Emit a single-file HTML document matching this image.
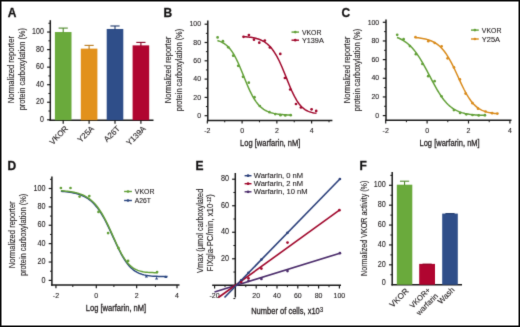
<!DOCTYPE html>
<html><head><meta charset="utf-8"><style>
html,body{margin:0;padding:0;background:#fff;}
body{width:520px;height:327px;overflow:hidden;}
svg{display:block;}
text{font-family:"Liberation Sans",sans-serif;stroke:#231f20;stroke-width:0.12px;}
</style></head><body>
<svg width="520" height="327" viewBox="0 0 520 327">
<defs><filter id="bl" x="0" y="0" width="520" height="327" filterUnits="userSpaceOnUse" color-interpolation-filters="sRGB"><feConvolveMatrix order="3" kernelMatrix="0.01134 0.08382 0.01134 0.08382 0.61935 0.08382 0.01134 0.08382 0.01134" divisor="1" preserveAlpha="true" edgeMode="duplicate"/></filter></defs>
<g filter="url(#bl)"><rect x="0" y="0" width="520" height="327" fill="#fff"/>
<text x="7.80" y="16.70" font-size="12" text-anchor="start" fill="#111" style="stroke-width:0.3px" font-weight="bold">A</text><text x="163.40" y="16.50" font-size="12" text-anchor="start" fill="#111" style="stroke-width:0.3px" font-weight="bold">B</text><text x="341.60" y="16.60" font-size="12" text-anchor="start" fill="#111" style="stroke-width:0.3px" font-weight="bold">C</text><text x="7.60" y="169.80" font-size="12" text-anchor="start" fill="#111" style="stroke-width:0.3px" font-weight="bold">D</text><text x="195.50" y="169.80" font-size="12" text-anchor="start" fill="#111" style="stroke-width:0.3px" font-weight="bold">E</text><text x="359.50" y="169.80" font-size="12" text-anchor="start" fill="#111" style="stroke-width:0.3px" font-weight="bold">F</text><line x1="50.30" y1="20.20" x2="50.30" y2="121.00" stroke="#1a1a1a" stroke-width="1.5"/><line x1="49.55" y1="120.20" x2="153.50" y2="120.20" stroke="#1a1a1a" stroke-width="1.6"/><line x1="47.10" y1="119.80" x2="50.30" y2="119.80" stroke="#1a1a1a" stroke-width="1.2"/><text x="43.80" y="122.00" font-size="8.14" text-anchor="end" fill="#231f20" textLength="3.91" lengthAdjust="spacingAndGlyphs">0</text><line x1="47.10" y1="102.25" x2="50.30" y2="102.25" stroke="#1a1a1a" stroke-width="1.2"/><text x="43.80" y="104.45" font-size="8.14" text-anchor="end" fill="#231f20" textLength="7.82" lengthAdjust="spacingAndGlyphs">20</text><line x1="47.10" y1="84.70" x2="50.30" y2="84.70" stroke="#1a1a1a" stroke-width="1.2"/><text x="43.80" y="86.90" font-size="8.14" text-anchor="end" fill="#231f20" textLength="7.82" lengthAdjust="spacingAndGlyphs">40</text><line x1="47.10" y1="67.14" x2="50.30" y2="67.14" stroke="#1a1a1a" stroke-width="1.2"/><text x="43.80" y="69.34" font-size="8.14" text-anchor="end" fill="#231f20" textLength="7.82" lengthAdjust="spacingAndGlyphs">60</text><line x1="47.10" y1="49.59" x2="50.30" y2="49.59" stroke="#1a1a1a" stroke-width="1.2"/><text x="43.80" y="51.79" font-size="8.14" text-anchor="end" fill="#231f20" textLength="7.82" lengthAdjust="spacingAndGlyphs">80</text><line x1="47.10" y1="32.04" x2="50.30" y2="32.04" stroke="#1a1a1a" stroke-width="1.2"/><text x="43.80" y="34.24" font-size="8.14" text-anchor="end" fill="#231f20" textLength="11.73" lengthAdjust="spacingAndGlyphs">100</text><line x1="48.40" y1="111.02" x2="50.30" y2="111.02" stroke="#1a1a1a" stroke-width="1.0"/><line x1="48.40" y1="93.47" x2="50.30" y2="93.47" stroke="#1a1a1a" stroke-width="1.0"/><line x1="48.40" y1="75.92" x2="50.30" y2="75.92" stroke="#1a1a1a" stroke-width="1.0"/><line x1="48.40" y1="58.37" x2="50.30" y2="58.37" stroke="#1a1a1a" stroke-width="1.0"/><line x1="48.40" y1="40.82" x2="50.30" y2="40.82" stroke="#1a1a1a" stroke-width="1.0"/><line x1="48.40" y1="23.26" x2="50.30" y2="23.26" stroke="#1a1a1a" stroke-width="1.0"/><rect x="54.90" y="32.04" width="16.6" height="88.16" fill="#6aaa3c"/><line x1="63.20" y1="28.09" x2="63.20" y2="32.54" stroke="#4f8a2c" stroke-width="1.1"/><line x1="58.60" y1="28.09" x2="67.80" y2="28.09" stroke="#4f8a2c" stroke-width="1.1"/><line x1="63.20" y1="120.20" x2="63.20" y2="123.80" stroke="#1a1a1a" stroke-width="1.2"/><text x="68.70" y="129.10" font-size="8.0" text-anchor="end" fill="#231f20" transform="rotate(-45 68.70 129.10)">VKOR</text><rect x="80.80" y="48.63" width="16.6" height="71.57" fill="#e2911c"/><line x1="89.10" y1="45.38" x2="89.10" y2="49.13" stroke="#b97a1c" stroke-width="1.1"/><line x1="84.50" y1="45.38" x2="93.70" y2="45.38" stroke="#b97a1c" stroke-width="1.1"/><line x1="89.10" y1="120.20" x2="89.10" y2="123.80" stroke="#1a1a1a" stroke-width="1.2"/><text x="94.60" y="129.10" font-size="8.0" text-anchor="end" fill="#231f20" transform="rotate(-45 94.60 129.10)">Y25A</text><rect x="106.70" y="28.97" width="16.6" height="91.23" fill="#2f4e89"/><line x1="115.00" y1="25.98" x2="115.00" y2="29.47" stroke="#203a6c" stroke-width="1.1"/><line x1="110.40" y1="25.98" x2="119.60" y2="25.98" stroke="#203a6c" stroke-width="1.1"/><line x1="115.00" y1="120.20" x2="115.00" y2="123.80" stroke="#1a1a1a" stroke-width="1.2"/><text x="120.50" y="129.10" font-size="8.0" text-anchor="end" fill="#231f20" transform="rotate(-45 120.50 129.10)">A26T</text><rect x="132.60" y="45.38" width="16.6" height="74.82" fill="#b00530"/><line x1="140.90" y1="42.40" x2="140.90" y2="45.88" stroke="#880022" stroke-width="1.1"/><line x1="136.30" y1="42.40" x2="145.50" y2="42.40" stroke="#880022" stroke-width="1.1"/><line x1="140.90" y1="120.20" x2="140.90" y2="123.80" stroke="#1a1a1a" stroke-width="1.2"/><text x="146.40" y="129.10" font-size="8.0" text-anchor="end" fill="#231f20" transform="rotate(-45 146.40 129.10)">Y139A</text><text x="13.60" y="69.70" font-size="8.3" text-anchor="middle" fill="#231f20" textLength="67.30" lengthAdjust="spacingAndGlyphs" transform="rotate(-90 13.60 69.70)">Normalized reporter</text><text x="24.70" y="69.20" font-size="8.3" text-anchor="middle" fill="#231f20" textLength="82.30" lengthAdjust="spacingAndGlyphs" transform="rotate(-90 24.70 69.20)">protein carboxylation (%)</text><line x1="207.80" y1="20.50" x2="207.80" y2="121.15" stroke="#1a1a1a" stroke-width="1.5"/><line x1="207.05" y1="120.40" x2="332.40" y2="120.40" stroke="#1a1a1a" stroke-width="1.5"/><line x1="204.60" y1="115.70" x2="207.80" y2="115.70" stroke="#1a1a1a" stroke-width="1.2"/><text x="201.00" y="117.90" font-size="8.030000000000001" text-anchor="end" fill="#231f20" textLength="3.86" lengthAdjust="spacingAndGlyphs">0</text><line x1="204.60" y1="97.40" x2="207.80" y2="97.40" stroke="#1a1a1a" stroke-width="1.2"/><text x="201.00" y="99.60" font-size="8.030000000000001" text-anchor="end" fill="#231f20" textLength="7.71" lengthAdjust="spacingAndGlyphs">20</text><line x1="204.60" y1="79.10" x2="207.80" y2="79.10" stroke="#1a1a1a" stroke-width="1.2"/><text x="201.00" y="81.30" font-size="8.030000000000001" text-anchor="end" fill="#231f20" textLength="7.71" lengthAdjust="spacingAndGlyphs">40</text><line x1="204.60" y1="60.80" x2="207.80" y2="60.80" stroke="#1a1a1a" stroke-width="1.2"/><text x="201.00" y="63.00" font-size="8.030000000000001" text-anchor="end" fill="#231f20" textLength="7.71" lengthAdjust="spacingAndGlyphs">60</text><line x1="204.60" y1="42.50" x2="207.80" y2="42.50" stroke="#1a1a1a" stroke-width="1.2"/><text x="201.00" y="44.70" font-size="8.030000000000001" text-anchor="end" fill="#231f20" textLength="7.71" lengthAdjust="spacingAndGlyphs">80</text><line x1="204.60" y1="24.20" x2="207.80" y2="24.20" stroke="#1a1a1a" stroke-width="1.2"/><text x="201.00" y="26.40" font-size="8.030000000000001" text-anchor="end" fill="#231f20" textLength="11.57" lengthAdjust="spacingAndGlyphs">100</text><line x1="205.90" y1="106.55" x2="207.80" y2="106.55" stroke="#1a1a1a" stroke-width="1.0"/><line x1="205.90" y1="88.25" x2="207.80" y2="88.25" stroke="#1a1a1a" stroke-width="1.0"/><line x1="205.90" y1="69.95" x2="207.80" y2="69.95" stroke="#1a1a1a" stroke-width="1.0"/><line x1="205.90" y1="51.65" x2="207.80" y2="51.65" stroke="#1a1a1a" stroke-width="1.0"/><line x1="205.90" y1="33.35" x2="207.80" y2="33.35" stroke="#1a1a1a" stroke-width="1.0"/><line x1="207.34" y1="120.40" x2="207.34" y2="123.60" stroke="#1a1a1a" stroke-width="1.2"/><text x="207.34" y="133.40" font-size="7.700000000000001" text-anchor="middle" fill="#231f20" textLength="6.22" lengthAdjust="spacingAndGlyphs">-2</text><line x1="224.72" y1="120.40" x2="224.72" y2="122.30" stroke="#1a1a1a" stroke-width="1.0"/><line x1="242.10" y1="120.40" x2="242.10" y2="123.60" stroke="#1a1a1a" stroke-width="1.2"/><text x="242.10" y="133.40" font-size="7.700000000000001" text-anchor="middle" fill="#231f20" textLength="3.89" lengthAdjust="spacingAndGlyphs">0</text><line x1="259.48" y1="120.40" x2="259.48" y2="122.30" stroke="#1a1a1a" stroke-width="1.0"/><line x1="276.86" y1="120.40" x2="276.86" y2="123.60" stroke="#1a1a1a" stroke-width="1.2"/><text x="276.86" y="133.40" font-size="7.700000000000001" text-anchor="middle" fill="#231f20" textLength="3.89" lengthAdjust="spacingAndGlyphs">2</text><line x1="294.24" y1="120.40" x2="294.24" y2="122.30" stroke="#1a1a1a" stroke-width="1.0"/><line x1="311.62" y1="120.40" x2="311.62" y2="123.60" stroke="#1a1a1a" stroke-width="1.2"/><text x="311.62" y="133.40" font-size="7.700000000000001" text-anchor="middle" fill="#231f20" textLength="3.89" lengthAdjust="spacingAndGlyphs">4</text><line x1="329.00" y1="120.40" x2="329.00" y2="122.30" stroke="#1a1a1a" stroke-width="1.0"/><text x="270.20" y="146.00" font-size="9.3" text-anchor="middle" fill="#231f20" style="stroke-width:0.3px" textLength="60.20" lengthAdjust="spacingAndGlyphs">Log [warfarin, nM]</text><path d="M217.40,40.54 L218.65,40.93 L219.90,41.38 L221.15,41.91 L222.40,42.53 L223.65,43.24 L224.91,44.07 L226.16,45.02 L227.41,46.12 L228.66,47.37 L229.91,48.79 L231.16,50.39 L232.41,52.18 L233.66,54.17 L234.91,56.36 L236.16,58.74 L237.41,61.31 L238.66,64.05 L239.92,66.94 L241.17,69.94 L242.42,73.01 L243.67,76.13 L244.92,79.24 L246.17,82.31 L247.42,85.29 L248.67,88.16 L249.92,90.89 L251.17,93.45 L252.42,95.83 L253.67,98.02 L254.93,100.02 L256.18,101.84 L257.43,103.47 L258.68,104.94 L259.93,106.24 L261.18,107.39 L262.43,108.41 L263.68,109.31 L264.93,110.09 L266.18,110.78 L267.43,111.38 L268.68,111.90 L269.94,112.35 L271.19,112.74 L272.44,113.08 L273.69,113.38 L274.94,113.63 L276.19,113.86 L277.44,114.05 L278.69,114.21 L279.94,114.35 L281.19,114.48 L282.44,114.58 L283.69,114.67 L284.95,114.75 L286.20,114.82 L287.45,114.88 L288.70,114.93 L289.95,114.97 L291.20,115.01" fill="none" stroke="#62a038" stroke-width="1.5" stroke-linejoin="round"/><circle cx="217.60" cy="37.40" r="1.35" fill="#62a038"/><circle cx="222.90" cy="41.20" r="1.35" fill="#62a038"/><circle cx="228.30" cy="47.30" r="1.35" fill="#62a038"/><circle cx="233.20" cy="55.70" r="1.35" fill="#62a038"/><circle cx="238.20" cy="65.80" r="1.35" fill="#62a038"/><circle cx="243.00" cy="76.80" r="1.35" fill="#62a038"/><circle cx="248.80" cy="82.70" r="1.35" fill="#62a038"/><circle cx="254.50" cy="97.20" r="1.35" fill="#62a038"/><circle cx="259.80" cy="106.00" r="1.35" fill="#62a038"/><circle cx="269.50" cy="112.20" r="1.35" fill="#62a038"/><circle cx="275.20" cy="114.10" r="1.35" fill="#62a038"/><circle cx="280.50" cy="115.20" r="1.35" fill="#62a038"/><circle cx="285.30" cy="115.40" r="1.35" fill="#62a038"/><circle cx="290.70" cy="115.20" r="1.35" fill="#62a038"/><path d="M243.50,36.62 L244.74,36.70 L245.97,36.80 L247.21,36.91 L248.45,37.04 L249.69,37.19 L250.92,37.36 L252.16,37.56 L253.40,37.78 L254.64,38.04 L255.87,38.33 L257.11,38.67 L258.35,39.06 L259.58,39.50 L260.82,40.01 L262.06,40.58 L263.30,41.23 L264.53,41.97 L265.77,42.81 L267.01,43.76 L268.25,44.82 L269.48,46.02 L270.72,47.35 L271.96,48.84 L273.19,50.49 L274.43,52.30 L275.67,54.29 L276.91,56.45 L278.14,58.79 L279.38,61.29 L280.62,63.95 L281.86,66.75 L283.09,69.67 L284.33,72.68 L285.57,75.76 L286.81,78.85 L288.04,81.94 L289.28,84.97 L290.52,87.92 L291.75,90.75 L292.99,93.42 L294.23,95.93 L295.47,98.24 L296.70,100.36 L297.94,102.26 L299.18,103.97 L300.42,105.48 L301.65,106.80 L302.89,107.94 L304.13,108.93 L305.36,109.78 L306.60,110.50 L307.84,111.10 L309.08,111.61 L310.31,112.04 L311.55,112.39 L312.79,112.68 L314.03,112.92 L315.26,113.12 L316.50,113.29" fill="none" stroke="#a0082c" stroke-width="1.5" stroke-linejoin="round"/><circle cx="243.50" cy="36.80" r="1.35" fill="#a0082c"/><circle cx="248.90" cy="35.00" r="1.35" fill="#a0082c"/><circle cx="254.00" cy="39.70" r="1.35" fill="#a0082c"/><circle cx="259.30" cy="42.70" r="1.35" fill="#a0082c"/><circle cx="264.80" cy="40.50" r="1.35" fill="#a0082c"/><circle cx="269.90" cy="47.40" r="1.35" fill="#a0082c"/><circle cx="280.30" cy="53.90" r="1.35" fill="#a0082c"/><circle cx="284.90" cy="78.00" r="1.35" fill="#a0082c"/><circle cx="290.20" cy="89.50" r="1.35" fill="#a0082c"/><circle cx="296.00" cy="104.00" r="1.35" fill="#a0082c"/><circle cx="300.90" cy="107.50" r="1.35" fill="#a0082c"/><circle cx="311.60" cy="109.30" r="1.35" fill="#a0082c"/><circle cx="316.20" cy="110.90" r="1.35" fill="#a0082c"/><text x="171.50" y="69.90" font-size="8.3" text-anchor="middle" fill="#231f20" textLength="66.60" lengthAdjust="spacingAndGlyphs" transform="rotate(-90 171.50 69.90)">Normalized reporter</text><text x="181.90" y="70.00" font-size="8.3" text-anchor="middle" fill="#231f20" textLength="82.50" lengthAdjust="spacingAndGlyphs" transform="rotate(-90 181.90 70.00)">protein carboxylation (%)</text><line x1="386.00" y1="19.40" x2="386.00" y2="121.05" stroke="#1a1a1a" stroke-width="1.5"/><line x1="385.25" y1="120.30" x2="511.50" y2="120.30" stroke="#1a1a1a" stroke-width="1.5"/><line x1="382.80" y1="115.60" x2="386.00" y2="115.60" stroke="#1a1a1a" stroke-width="1.2"/><text x="379.20" y="117.80" font-size="8.030000000000001" text-anchor="end" fill="#231f20" textLength="3.86" lengthAdjust="spacingAndGlyphs">0</text><line x1="382.80" y1="96.94" x2="386.00" y2="96.94" stroke="#1a1a1a" stroke-width="1.2"/><text x="379.20" y="99.14" font-size="8.030000000000001" text-anchor="end" fill="#231f20" textLength="7.71" lengthAdjust="spacingAndGlyphs">20</text><line x1="382.80" y1="78.28" x2="386.00" y2="78.28" stroke="#1a1a1a" stroke-width="1.2"/><text x="379.20" y="80.48" font-size="8.030000000000001" text-anchor="end" fill="#231f20" textLength="7.71" lengthAdjust="spacingAndGlyphs">40</text><line x1="382.80" y1="59.62" x2="386.00" y2="59.62" stroke="#1a1a1a" stroke-width="1.2"/><text x="379.20" y="61.82" font-size="8.030000000000001" text-anchor="end" fill="#231f20" textLength="7.71" lengthAdjust="spacingAndGlyphs">60</text><line x1="382.80" y1="40.96" x2="386.00" y2="40.96" stroke="#1a1a1a" stroke-width="1.2"/><text x="379.20" y="43.16" font-size="8.030000000000001" text-anchor="end" fill="#231f20" textLength="7.71" lengthAdjust="spacingAndGlyphs">80</text><line x1="382.80" y1="22.30" x2="386.00" y2="22.30" stroke="#1a1a1a" stroke-width="1.2"/><text x="379.20" y="24.50" font-size="8.030000000000001" text-anchor="end" fill="#231f20" textLength="11.57" lengthAdjust="spacingAndGlyphs">100</text><line x1="384.10" y1="106.27" x2="386.00" y2="106.27" stroke="#1a1a1a" stroke-width="1.0"/><line x1="384.10" y1="87.61" x2="386.00" y2="87.61" stroke="#1a1a1a" stroke-width="1.0"/><line x1="384.10" y1="68.95" x2="386.00" y2="68.95" stroke="#1a1a1a" stroke-width="1.0"/><line x1="384.10" y1="50.29" x2="386.00" y2="50.29" stroke="#1a1a1a" stroke-width="1.0"/><line x1="384.10" y1="31.63" x2="386.00" y2="31.63" stroke="#1a1a1a" stroke-width="1.0"/><line x1="385.70" y1="120.30" x2="385.70" y2="123.50" stroke="#1a1a1a" stroke-width="1.2"/><text x="385.70" y="133.30" font-size="7.700000000000001" text-anchor="middle" fill="#231f20" textLength="6.22" lengthAdjust="spacingAndGlyphs">-2</text><line x1="406.40" y1="120.30" x2="406.40" y2="122.20" stroke="#1a1a1a" stroke-width="1.0"/><line x1="427.10" y1="120.30" x2="427.10" y2="123.50" stroke="#1a1a1a" stroke-width="1.2"/><text x="427.10" y="133.30" font-size="7.700000000000001" text-anchor="middle" fill="#231f20" textLength="3.89" lengthAdjust="spacingAndGlyphs">0</text><line x1="447.80" y1="120.30" x2="447.80" y2="122.20" stroke="#1a1a1a" stroke-width="1.0"/><line x1="468.50" y1="120.30" x2="468.50" y2="123.50" stroke="#1a1a1a" stroke-width="1.2"/><text x="468.50" y="133.30" font-size="7.700000000000001" text-anchor="middle" fill="#231f20" textLength="3.89" lengthAdjust="spacingAndGlyphs">2</text><line x1="489.20" y1="120.30" x2="489.20" y2="122.20" stroke="#1a1a1a" stroke-width="1.0"/><line x1="509.90" y1="120.30" x2="509.90" y2="123.50" stroke="#1a1a1a" stroke-width="1.2"/><text x="509.90" y="133.30" font-size="7.700000000000001" text-anchor="middle" fill="#231f20" textLength="3.89" lengthAdjust="spacingAndGlyphs">4</text><text x="449.60" y="146.00" font-size="9.3" text-anchor="middle" fill="#231f20" style="stroke-width:0.3px" textLength="60.20" lengthAdjust="spacingAndGlyphs">Log [warfarin, nM]</text><path d="M397.00,37.44 L398.51,38.04 L400.02,38.72 L401.53,39.48 L403.03,40.33 L404.54,41.28 L406.05,42.34 L407.56,43.52 L409.07,44.82 L410.58,46.25 L412.08,47.82 L413.59,49.54 L415.10,51.40 L416.61,53.42 L418.12,55.58 L419.63,57.89 L421.14,60.33 L422.64,62.90 L424.15,65.57 L425.66,68.34 L427.17,71.18 L428.68,74.06 L430.19,76.96 L431.69,79.85 L433.20,82.69 L434.71,85.48 L436.22,88.18 L437.73,90.76 L439.24,93.21 L440.75,95.53 L442.25,97.68 L443.76,99.68 L445.27,101.52 L446.78,103.19 L448.29,104.70 L449.80,106.07 L451.31,107.29 L452.81,108.37 L454.32,109.33 L455.83,110.18 L457.34,110.93 L458.85,111.58 L460.36,112.14 L461.86,112.64 L463.37,113.07 L464.88,113.44 L466.39,113.76 L467.90,114.03 L469.41,114.27 L470.92,114.47 L472.42,114.65 L473.93,114.80 L475.44,114.92 L476.95,115.03 L478.46,115.13 L479.97,115.21 L481.47,115.28 L482.98,115.33 L484.49,115.38 L486.00,115.43" fill="none" stroke="#62a038" stroke-width="1.5" stroke-linejoin="round"/><circle cx="397.20" cy="34.80" r="1.35" fill="#62a038"/><circle cx="403.60" cy="39.20" r="1.35" fill="#62a038"/><circle cx="409.90" cy="46.10" r="1.35" fill="#62a038"/><circle cx="415.90" cy="54.20" r="1.35" fill="#62a038"/><circle cx="422.40" cy="64.00" r="1.35" fill="#62a038"/><circle cx="428.20" cy="76.20" r="1.35" fill="#62a038"/><circle cx="434.60" cy="81.20" r="1.35" fill="#62a038"/><circle cx="441.50" cy="96.30" r="1.35" fill="#62a038"/><circle cx="453.90" cy="110.10" r="1.35" fill="#62a038"/><circle cx="460.10" cy="112.90" r="1.35" fill="#62a038"/><circle cx="466.30" cy="114.30" r="1.35" fill="#62a038"/><circle cx="472.50" cy="115.00" r="1.35" fill="#62a038"/><circle cx="478.70" cy="115.40" r="1.35" fill="#62a038"/><circle cx="484.90" cy="115.20" r="1.35" fill="#62a038"/><path d="M415.50,37.60 L416.89,37.72 L418.28,37.87 L419.66,38.03 L421.05,38.23 L422.44,38.45 L423.83,38.71 L425.22,39.00 L426.61,39.35 L427.99,39.74 L429.38,40.19 L430.77,40.71 L432.16,41.31 L433.55,41.99 L434.93,42.76 L436.32,43.64 L437.71,44.64 L439.10,45.77 L440.49,47.04 L441.87,48.46 L443.26,50.04 L444.65,51.79 L446.04,53.71 L447.43,55.81 L448.82,58.09 L450.20,60.54 L451.59,63.15 L452.98,65.90 L454.37,68.77 L455.76,71.73 L457.14,74.75 L458.53,77.80 L459.92,80.83 L461.31,83.82 L462.70,86.72 L464.08,89.51 L465.47,92.15 L466.86,94.63 L468.25,96.94 L469.64,99.05 L471.03,100.98 L472.41,102.71 L473.80,104.26 L475.19,105.64 L476.58,106.85 L477.97,107.91 L479.35,108.84 L480.74,109.64 L482.13,110.33 L483.52,110.92 L484.91,111.43 L486.29,111.86 L487.68,112.23 L489.07,112.55 L490.46,112.81 L491.85,113.04 L493.24,113.23 L494.62,113.39 L496.01,113.52 L497.40,113.63" fill="none" stroke="#d98b1c" stroke-width="1.5" stroke-linejoin="round"/><circle cx="415.50" cy="37.20" r="1.35" fill="#d98b1c"/><circle cx="428.30" cy="41.20" r="1.35" fill="#d98b1c"/><circle cx="434.80" cy="43.00" r="1.35" fill="#d98b1c"/><circle cx="441.60" cy="46.30" r="1.35" fill="#d98b1c"/><circle cx="447.60" cy="58.30" r="1.35" fill="#d98b1c"/><circle cx="454.00" cy="67.40" r="1.35" fill="#d98b1c"/><circle cx="459.90" cy="79.40" r="1.35" fill="#d98b1c"/><circle cx="465.60" cy="93.60" r="1.35" fill="#d98b1c"/><circle cx="472.50" cy="103.20" r="1.35" fill="#d98b1c"/><circle cx="478.00" cy="108.70" r="1.35" fill="#d98b1c"/><circle cx="485.60" cy="111.50" r="1.35" fill="#d98b1c"/><circle cx="492.10" cy="113.20" r="1.35" fill="#d98b1c"/><circle cx="497.40" cy="113.60" r="1.35" fill="#d98b1c"/><text x="349.70" y="69.90" font-size="8.3" text-anchor="middle" fill="#231f20" textLength="66.60" lengthAdjust="spacingAndGlyphs" transform="rotate(-90 349.70 69.90)">Normalized reporter</text><text x="360.10" y="70.00" font-size="8.3" text-anchor="middle" fill="#231f20" textLength="82.50" lengthAdjust="spacingAndGlyphs" transform="rotate(-90 360.10 70.00)">protein carboxylation (%)</text><line x1="291.50" y1="32.10" x2="299.00" y2="32.10" stroke="#62a038" stroke-width="1.4"/><circle cx="295.25" cy="32.10" r="1.35" fill="#62a038"/><text x="301.90" y="34.70" font-size="7.2" text-anchor="start" fill="#231f20" textLength="19.60" lengthAdjust="spacingAndGlyphs">VKOR</text><line x1="291.50" y1="40.20" x2="299.00" y2="40.20" stroke="#a0082c" stroke-width="1.4"/><circle cx="295.25" cy="40.20" r="1.35" fill="#a0082c"/><text x="301.90" y="42.80" font-size="7.2" text-anchor="start" fill="#231f20" textLength="21.90" lengthAdjust="spacingAndGlyphs">Y139A</text><line x1="471.00" y1="30.10" x2="478.80" y2="30.10" stroke="#62a038" stroke-width="1.4"/><circle cx="474.90" cy="30.10" r="1.35" fill="#62a038"/><text x="481.80" y="32.70" font-size="7.2" text-anchor="start" fill="#231f20" textLength="19.60" lengthAdjust="spacingAndGlyphs">VKOR</text><line x1="471.00" y1="39.00" x2="478.80" y2="39.00" stroke="#d98b1c" stroke-width="1.4"/><circle cx="474.90" cy="39.00" r="1.35" fill="#d98b1c"/><text x="481.80" y="41.60" font-size="7.2" text-anchor="start" fill="#231f20" textLength="18.20" lengthAdjust="spacingAndGlyphs">Y25A</text><line x1="51.90" y1="176.40" x2="51.90" y2="285.85" stroke="#1a1a1a" stroke-width="1.5"/><line x1="51.15" y1="285.10" x2="179.50" y2="285.10" stroke="#1a1a1a" stroke-width="1.5"/><line x1="48.70" y1="280.40" x2="51.90" y2="280.40" stroke="#1a1a1a" stroke-width="1.2"/><text x="45.60" y="282.60" font-size="8.36" text-anchor="end" fill="#231f20" textLength="4.01" lengthAdjust="spacingAndGlyphs">0</text><line x1="48.70" y1="262.02" x2="51.90" y2="262.02" stroke="#1a1a1a" stroke-width="1.2"/><text x="45.60" y="264.22" font-size="8.36" text-anchor="end" fill="#231f20" textLength="8.03" lengthAdjust="spacingAndGlyphs">20</text><line x1="48.70" y1="243.64" x2="51.90" y2="243.64" stroke="#1a1a1a" stroke-width="1.2"/><text x="45.60" y="245.84" font-size="8.36" text-anchor="end" fill="#231f20" textLength="8.03" lengthAdjust="spacingAndGlyphs">40</text><line x1="48.70" y1="225.26" x2="51.90" y2="225.26" stroke="#1a1a1a" stroke-width="1.2"/><text x="45.60" y="227.46" font-size="8.36" text-anchor="end" fill="#231f20" textLength="8.03" lengthAdjust="spacingAndGlyphs">60</text><line x1="48.70" y1="206.88" x2="51.90" y2="206.88" stroke="#1a1a1a" stroke-width="1.2"/><text x="45.60" y="209.08" font-size="8.36" text-anchor="end" fill="#231f20" textLength="8.03" lengthAdjust="spacingAndGlyphs">80</text><line x1="48.70" y1="188.50" x2="51.90" y2="188.50" stroke="#1a1a1a" stroke-width="1.2"/><text x="45.60" y="190.70" font-size="8.36" text-anchor="end" fill="#231f20" textLength="12.04" lengthAdjust="spacingAndGlyphs">100</text><line x1="50.00" y1="271.21" x2="51.90" y2="271.21" stroke="#1a1a1a" stroke-width="1.0"/><line x1="50.00" y1="252.83" x2="51.90" y2="252.83" stroke="#1a1a1a" stroke-width="1.0"/><line x1="50.00" y1="234.45" x2="51.90" y2="234.45" stroke="#1a1a1a" stroke-width="1.0"/><line x1="50.00" y1="216.07" x2="51.90" y2="216.07" stroke="#1a1a1a" stroke-width="1.0"/><line x1="50.00" y1="197.69" x2="51.90" y2="197.69" stroke="#1a1a1a" stroke-width="1.0"/><line x1="50.00" y1="179.31" x2="51.90" y2="179.31" stroke="#1a1a1a" stroke-width="1.0"/><line x1="55.94" y1="285.10" x2="55.94" y2="288.30" stroke="#1a1a1a" stroke-width="1.2"/><text x="55.94" y="297.90" font-size="7.700000000000001" text-anchor="middle" fill="#231f20" textLength="6.22" lengthAdjust="spacingAndGlyphs">-2</text><line x1="96.30" y1="285.10" x2="96.30" y2="288.30" stroke="#1a1a1a" stroke-width="1.2"/><text x="96.30" y="297.90" font-size="7.700000000000001" text-anchor="middle" fill="#231f20" textLength="3.89" lengthAdjust="spacingAndGlyphs">0</text><line x1="136.66" y1="285.10" x2="136.66" y2="288.30" stroke="#1a1a1a" stroke-width="1.2"/><text x="136.66" y="297.90" font-size="7.700000000000001" text-anchor="middle" fill="#231f20" textLength="3.89" lengthAdjust="spacingAndGlyphs">2</text><line x1="177.02" y1="285.10" x2="177.02" y2="288.30" stroke="#1a1a1a" stroke-width="1.2"/><text x="177.02" y="297.90" font-size="7.700000000000001" text-anchor="middle" fill="#231f20" textLength="3.89" lengthAdjust="spacingAndGlyphs">4</text><line x1="72.80" y1="285.10" x2="72.80" y2="287.00" stroke="#1a1a1a" stroke-width="1.0"/><line x1="113.90" y1="285.10" x2="113.90" y2="287.00" stroke="#1a1a1a" stroke-width="1.0"/><line x1="155.40" y1="285.10" x2="155.40" y2="287.00" stroke="#1a1a1a" stroke-width="1.0"/><text x="116.00" y="310.90" font-size="9.3" text-anchor="middle" fill="#231f20" style="stroke-width:0.3px" textLength="60.40" lengthAdjust="spacingAndGlyphs">Log [warfarin, nM]</text><text x="15.50" y="234.80" font-size="8.3" text-anchor="middle" fill="#231f20" textLength="66.80" lengthAdjust="spacingAndGlyphs" transform="rotate(-90 15.50 234.80)">Normalized reporter</text><text x="26.00" y="234.90" font-size="8.3" text-anchor="middle" fill="#231f20" textLength="82.40" lengthAdjust="spacingAndGlyphs" transform="rotate(-90 26.00 234.90)">protein carboxylation (%)</text><path d="M60.90,191.33 L62.71,191.46 L64.52,191.62 L66.33,191.80 L68.13,192.01 L69.94,192.26 L71.75,192.56 L73.56,192.90 L75.37,193.30 L77.18,193.77 L78.98,194.32 L80.79,194.96 L82.60,195.71 L84.41,196.57 L86.22,197.57 L88.03,198.72 L89.84,200.04 L91.64,201.55 L93.45,203.27 L95.26,205.22 L97.07,207.40 L98.88,209.85 L100.69,212.55 L102.49,215.51 L104.30,218.73 L106.11,222.18 L107.92,225.83 L109.73,229.65 L111.54,233.59 L113.35,237.57 L115.15,241.55 L116.96,245.45 L118.77,249.22 L120.58,252.78 L122.39,256.10 L124.20,259.14 L126.01,261.88 L127.81,264.30 L129.62,266.42 L131.43,268.25 L133.24,269.80 L135.05,271.11 L136.86,272.19 L138.66,273.09 L140.47,273.82 L142.28,274.41 L144.09,274.89 L145.90,275.27 L147.71,275.57 L149.52,275.81 L151.32,276.00 L153.13,276.15 L154.94,276.27 L156.75,276.36 L158.56,276.43 L160.37,276.49 L162.17,276.53 L163.98,276.57 L165.79,276.59 L167.60,276.61" fill="none" stroke="#2a4680" stroke-width="1.5" stroke-linejoin="round"/><path d="M60.90,190.73 L62.54,190.85 L64.17,190.98 L65.81,191.13 L67.45,191.30 L69.09,191.51 L70.72,191.74 L72.36,192.01 L74.00,192.32 L75.64,192.69 L77.27,193.10 L78.91,193.59 L80.55,194.14 L82.18,194.77 L83.82,195.50 L85.46,196.34 L87.10,197.29 L88.73,198.37 L90.37,199.60 L92.01,201.00 L93.65,202.56 L95.28,204.32 L96.92,206.28 L98.56,208.45 L100.19,210.84 L101.83,213.45 L103.47,216.28 L105.11,219.32 L106.74,222.55 L108.38,225.95 L110.02,229.48 L111.66,233.10 L113.29,236.75 L114.93,240.40 L116.57,243.97 L118.21,247.43 L119.84,250.71 L121.48,253.78 L123.12,256.59 L124.75,259.14 L126.39,261.41 L128.03,263.40 L129.67,265.12 L131.30,266.58 L132.94,267.81 L134.58,268.83 L136.22,269.66 L137.85,270.34 L139.49,270.89 L141.13,271.32 L142.76,271.66 L144.40,271.93 L146.04,272.14 L147.68,272.31 L149.31,272.43 L150.95,272.53 L152.59,272.61 L154.23,272.66 L155.86,272.71 L157.50,272.74" fill="none" stroke="#62a038" stroke-width="1.5" stroke-linejoin="round"/><path d="M155.00,279.50 L158.20,279.50 L156.60,276.80 Z" fill="#2a4680"/><path d="M144.80,277.50 L148.00,277.50 L146.40,274.80 Z" fill="#2a4680"/><path d="M164.20,278.10 L167.40,278.10 L165.80,275.40 Z" fill="#2a4680"/><circle cx="60.90" cy="188.00" r="1.35" fill="#62a038"/><circle cx="70.50" cy="188.00" r="1.35" fill="#62a038"/><circle cx="79.60" cy="196.60" r="1.35" fill="#62a038"/><circle cx="89.30" cy="196.10" r="1.35" fill="#62a038"/><circle cx="98.50" cy="211.90" r="1.35" fill="#62a038"/><circle cx="108.10" cy="233.10" r="1.35" fill="#62a038"/><circle cx="118.40" cy="248.10" r="1.35" fill="#62a038"/><circle cx="128.10" cy="260.90" r="1.35" fill="#62a038"/><circle cx="157.10" cy="272.10" r="1.35" fill="#62a038"/><line x1="124.10" y1="191.50" x2="131.90" y2="191.50" stroke="#62a038" stroke-width="1.4"/><circle cx="128.00" cy="191.50" r="1.35" fill="#62a038"/><text x="134.80" y="194.10" font-size="7.2" text-anchor="start" fill="#231f20" textLength="19.60" lengthAdjust="spacingAndGlyphs">VKOR</text><line x1="124.10" y1="200.50" x2="131.90" y2="200.50" stroke="#2a4680" stroke-width="1.4"/><circle cx="128.00" cy="200.50" r="1.35" fill="#2a4680"/><text x="134.80" y="203.10" font-size="7.2" text-anchor="start" fill="#231f20" textLength="16.20" lengthAdjust="spacingAndGlyphs">A26T</text><line x1="235.30" y1="173.00" x2="235.30" y2="297.50" stroke="#1a1a1a" stroke-width="1.5"/><line x1="212.20" y1="285.30" x2="341.00" y2="285.30" stroke="#1a1a1a" stroke-width="1.5"/><line x1="232.10" y1="258.78" x2="235.30" y2="258.78" stroke="#1a1a1a" stroke-width="1.2"/><text x="229.10" y="260.98" font-size="8.36" text-anchor="end" fill="#231f20" textLength="8.03" lengthAdjust="spacingAndGlyphs">20</text><line x1="232.10" y1="232.26" x2="235.30" y2="232.26" stroke="#1a1a1a" stroke-width="1.2"/><text x="229.10" y="234.46" font-size="8.36" text-anchor="end" fill="#231f20" textLength="8.03" lengthAdjust="spacingAndGlyphs">40</text><line x1="232.10" y1="205.74" x2="235.30" y2="205.74" stroke="#1a1a1a" stroke-width="1.2"/><text x="229.10" y="207.94" font-size="8.36" text-anchor="end" fill="#231f20" textLength="8.03" lengthAdjust="spacingAndGlyphs">60</text><line x1="232.10" y1="179.22" x2="235.30" y2="179.22" stroke="#1a1a1a" stroke-width="1.2"/><text x="229.10" y="181.42" font-size="8.36" text-anchor="end" fill="#231f20" textLength="8.03" lengthAdjust="spacingAndGlyphs">80</text><line x1="233.40" y1="298.56" x2="235.30" y2="298.56" stroke="#1a1a1a" stroke-width="1.0"/><line x1="233.40" y1="272.04" x2="235.30" y2="272.04" stroke="#1a1a1a" stroke-width="1.0"/><line x1="233.40" y1="245.52" x2="235.30" y2="245.52" stroke="#1a1a1a" stroke-width="1.0"/><line x1="233.40" y1="219.00" x2="235.30" y2="219.00" stroke="#1a1a1a" stroke-width="1.0"/><line x1="233.40" y1="192.48" x2="235.30" y2="192.48" stroke="#1a1a1a" stroke-width="1.0"/><line x1="214.60" y1="285.30" x2="214.60" y2="288.50" stroke="#1a1a1a" stroke-width="1.2"/><text x="214.60" y="297.70" font-size="7.700000000000001" text-anchor="middle" fill="#231f20" textLength="10.12" lengthAdjust="spacingAndGlyphs">-20</text><line x1="225.00" y1="285.30" x2="225.00" y2="287.20" stroke="#1a1a1a" stroke-width="1.0"/><line x1="245.80" y1="285.30" x2="245.80" y2="287.20" stroke="#1a1a1a" stroke-width="1.0"/><line x1="256.20" y1="285.30" x2="256.20" y2="288.50" stroke="#1a1a1a" stroke-width="1.2"/><text x="256.20" y="297.70" font-size="7.700000000000001" text-anchor="middle" fill="#231f20" textLength="7.78" lengthAdjust="spacingAndGlyphs">20</text><line x1="266.60" y1="285.30" x2="266.60" y2="287.20" stroke="#1a1a1a" stroke-width="1.0"/><line x1="277.00" y1="285.30" x2="277.00" y2="288.50" stroke="#1a1a1a" stroke-width="1.2"/><text x="277.00" y="297.70" font-size="7.700000000000001" text-anchor="middle" fill="#231f20" textLength="7.78" lengthAdjust="spacingAndGlyphs">40</text><line x1="287.40" y1="285.30" x2="287.40" y2="287.20" stroke="#1a1a1a" stroke-width="1.0"/><line x1="297.80" y1="285.30" x2="297.80" y2="288.50" stroke="#1a1a1a" stroke-width="1.2"/><text x="297.80" y="297.70" font-size="7.700000000000001" text-anchor="middle" fill="#231f20" textLength="7.78" lengthAdjust="spacingAndGlyphs">60</text><line x1="308.20" y1="285.30" x2="308.20" y2="287.20" stroke="#1a1a1a" stroke-width="1.0"/><line x1="318.60" y1="285.30" x2="318.60" y2="288.50" stroke="#1a1a1a" stroke-width="1.2"/><text x="318.60" y="297.70" font-size="7.700000000000001" text-anchor="middle" fill="#231f20" textLength="7.78" lengthAdjust="spacingAndGlyphs">80</text><line x1="329.00" y1="285.30" x2="329.00" y2="287.20" stroke="#1a1a1a" stroke-width="1.0"/><line x1="339.40" y1="285.30" x2="339.40" y2="288.50" stroke="#1a1a1a" stroke-width="1.2"/><text x="339.40" y="297.70" font-size="7.700000000000001" text-anchor="middle" fill="#231f20" textLength="11.68" lengthAdjust="spacingAndGlyphs">100</text><text x="285.50" y="314.30" font-size="9.3" text-anchor="middle" fill="#231f20" style="stroke-width:0.3px" textLength="68.60" lengthAdjust="spacingAndGlyphs">Number of cells, x10</text><text x="319.90" y="311.60" font-size="7.2" text-anchor="start" fill="#231f20" style="stroke-width:0.2px" textLength="3.20" lengthAdjust="spacingAndGlyphs">3</text><text x="203.40" y="230.80" font-size="8.3" text-anchor="middle" fill="#231f20" textLength="84.20" lengthAdjust="spacingAndGlyphs" transform="rotate(-90 203.40 230.80)">Vmax (µmol carboxylated</text><text x="213.40" y="232.80" font-size="8.3" text-anchor="middle" fill="#231f20" textLength="77.50" lengthAdjust="spacingAndGlyphs" transform="rotate(-90 213.40 232.80)">FIXgla-PC/min, x10<tspan dy="-2.8" font-size="5.2">-12</tspan><tspan dy="2.8">)</tspan></text><line x1="214.50" y1="292.10" x2="339.90" y2="253.20" stroke="#4b2c6b" stroke-width="1.6"/><line x1="218.40" y1="297.50" x2="339.40" y2="210.20" stroke="#a0082c" stroke-width="1.6"/><line x1="224.50" y1="297.50" x2="339.90" y2="179.00" stroke="#2b3f7a" stroke-width="1.6"/><circle cx="241.20" cy="280.35" r="1.35" fill="#2b3f7a"/><circle cx="248.50" cy="272.86" r="1.35" fill="#2b3f7a"/><circle cx="261.40" cy="259.61" r="1.35" fill="#2b3f7a"/><circle cx="287.50" cy="232.81" r="1.35" fill="#2b3f7a"/><circle cx="339.90" cy="179.00" r="1.35" fill="#2b3f7a"/><circle cx="248.50" cy="278.40" r="1.35" fill="#a0082c"/><circle cx="261.40" cy="268.60" r="1.35" fill="#a0082c"/><circle cx="287.50" cy="242.60" r="1.35" fill="#a0082c"/><circle cx="339.40" cy="210.20" r="1.35" fill="#a0082c"/><circle cx="241.20" cy="282.00" r="1.35" fill="#a0082c"/><circle cx="261.40" cy="279.00" r="1.35" fill="#4b2c6b"/><circle cx="287.50" cy="271.10" r="1.35" fill="#4b2c6b"/><circle cx="339.90" cy="253.20" r="1.35" fill="#4b2c6b"/><circle cx="248.50" cy="281.00" r="1.35" fill="#4b2c6b"/><line x1="244.60" y1="175.70" x2="251.50" y2="175.70" stroke="#2b3f7a" stroke-width="1.4"/><circle cx="248.05" cy="175.70" r="1.35" fill="#2b3f7a"/><text x="253.80" y="178.30" font-size="7.6" text-anchor="start" fill="#231f20" textLength="49.30" lengthAdjust="spacingAndGlyphs">Warfarin, 0 nM</text><line x1="244.60" y1="183.70" x2="251.50" y2="183.70" stroke="#a0082c" stroke-width="1.4"/><circle cx="248.05" cy="183.70" r="1.35" fill="#a0082c"/><text x="253.80" y="186.30" font-size="7.6" text-anchor="start" fill="#231f20" textLength="49.30" lengthAdjust="spacingAndGlyphs">Warfarin, 2 nM</text><line x1="244.60" y1="191.80" x2="251.50" y2="191.80" stroke="#4b2c6b" stroke-width="1.4"/><circle cx="248.05" cy="191.80" r="1.35" fill="#4b2c6b"/><text x="253.80" y="194.40" font-size="7.6" text-anchor="start" fill="#231f20" textLength="53.90" lengthAdjust="spacingAndGlyphs">Warfarin, 10 nM</text><line x1="392.20" y1="172.00" x2="392.20" y2="285.45" stroke="#1a1a1a" stroke-width="1.5"/><line x1="391.45" y1="284.70" x2="462.00" y2="284.70" stroke="#1a1a1a" stroke-width="1.5"/><text x="385.80" y="285.30" font-size="8.36" text-anchor="end" fill="#231f20" textLength="4.01" lengthAdjust="spacingAndGlyphs">0</text><line x1="389.00" y1="264.82" x2="392.20" y2="264.82" stroke="#1a1a1a" stroke-width="1.2"/><text x="385.80" y="266.62" font-size="8.36" text-anchor="end" fill="#231f20" textLength="8.03" lengthAdjust="spacingAndGlyphs">20</text><line x1="389.00" y1="244.94" x2="392.20" y2="244.94" stroke="#1a1a1a" stroke-width="1.2"/><text x="385.80" y="246.74" font-size="8.36" text-anchor="end" fill="#231f20" textLength="8.03" lengthAdjust="spacingAndGlyphs">40</text><line x1="389.00" y1="225.06" x2="392.20" y2="225.06" stroke="#1a1a1a" stroke-width="1.2"/><text x="385.80" y="226.86" font-size="8.36" text-anchor="end" fill="#231f20" textLength="8.03" lengthAdjust="spacingAndGlyphs">60</text><line x1="389.00" y1="205.18" x2="392.20" y2="205.18" stroke="#1a1a1a" stroke-width="1.2"/><text x="385.80" y="206.98" font-size="8.36" text-anchor="end" fill="#231f20" textLength="8.03" lengthAdjust="spacingAndGlyphs">80</text><line x1="389.00" y1="185.30" x2="392.20" y2="185.30" stroke="#1a1a1a" stroke-width="1.2"/><text x="385.80" y="187.10" font-size="8.36" text-anchor="end" fill="#231f20" textLength="12.04" lengthAdjust="spacingAndGlyphs">100</text><line x1="390.30" y1="274.76" x2="392.20" y2="274.76" stroke="#1a1a1a" stroke-width="1.0"/><line x1="390.30" y1="254.88" x2="392.20" y2="254.88" stroke="#1a1a1a" stroke-width="1.0"/><line x1="390.30" y1="235.00" x2="392.20" y2="235.00" stroke="#1a1a1a" stroke-width="1.0"/><line x1="390.30" y1="215.12" x2="392.20" y2="215.12" stroke="#1a1a1a" stroke-width="1.0"/><line x1="390.30" y1="195.24" x2="392.20" y2="195.24" stroke="#1a1a1a" stroke-width="1.0"/><line x1="390.30" y1="175.36" x2="392.20" y2="175.36" stroke="#1a1a1a" stroke-width="1.0"/><rect x="396.80" y="184.70" width="15.50" height="100.00" fill="#6aaa3c"/><line x1="404.55" y1="181.20" x2="404.55" y2="185.20" stroke="#4f8a2c" stroke-width="1.1"/><line x1="399.95" y1="181.20" x2="409.15" y2="181.20" stroke="#4f8a2c" stroke-width="1.1"/><rect x="419.20" y="263.90" width="15.80" height="20.80" fill="#b00530"/><line x1="427.10" y1="264.20" x2="427.10" y2="264.40" stroke="#880022" stroke-width="1.1"/><line x1="422.50" y1="264.20" x2="431.70" y2="264.20" stroke="#880022" stroke-width="1.1"/><rect x="442.20" y="213.60" width="15.60" height="71.10" fill="#2f4e89"/><line x1="450.00" y1="213.60" x2="450.00" y2="214.10" stroke="#203a6c" stroke-width="1.1"/><line x1="445.40" y1="213.60" x2="454.60" y2="213.60" stroke="#203a6c" stroke-width="1.1"/><text x="409.20" y="291.60" font-size="8.2" text-anchor="end" fill="#231f20" transform="rotate(-45 409.20 291.60)">VKOR</text><text x="431.00" y="290.50" font-size="7.6" text-anchor="end" fill="#231f20" transform="rotate(-45 431.00 290.50)">VKOR+</text><text x="438.50" y="296.60" font-size="7.6" text-anchor="end" fill="#231f20" transform="rotate(-45 438.50 296.60)">warfarin</text><text x="455.00" y="290.40" font-size="7.9" text-anchor="end" fill="#231f20" transform="rotate(-45 455.00 290.40)">Wash</text><text x="367.50" y="228.30" font-size="8.3" text-anchor="middle" fill="#231f20" textLength="95.20" lengthAdjust="spacingAndGlyphs" transform="rotate(-90 367.50 228.30)">Normalized VKOR activity (%)</text></g>
<rect x="0.75" y="0.75" width="518.5" height="325.5" fill="none" stroke="#0a0a0a" stroke-width="1.5"/>
</svg></body></html>
